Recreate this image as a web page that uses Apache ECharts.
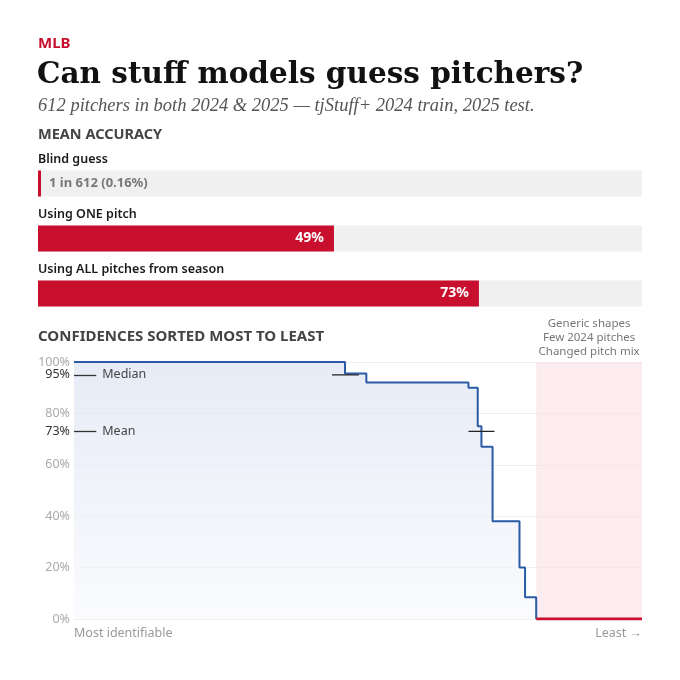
<!DOCTYPE html>
<html>
<head>
<meta charset="utf-8">
<script src="https://cdn.jsdelivr.net/npm/echarts@6/dist/echarts.min.js"></script>
<style>
  html, body { margin: 0; padding: 0; background: #fff; }
  #main { width: 680px; height: 680px; }
</style>
</head>
<body>
<div id="main"></div>
<script>
// mean accuracy bars
const accCategories = ["Blind guess", "Using ONE pitch", "Using ALL pitches from season"];
const accValues = [0.16, 49, 73];
const accLabels = ["1 in 612 (0.16%)", "49%", "73%"];

// sorted confidences (pitcher rank out of 612, confidence %)
const rankX = [0, 292, 315, 425, 435, 439, 451, 480, 486, 498];
const confY = [100, 95.5, 92, 90, 75, 67, 38, 20, 8.5, 0];
const zeroRange = [498, 612];
const totalPitchers = 612;

const medianValue = 95;
const medianRank = 292;
const meanValue = 73;
const meanRank = 439;

const yTicks = [0, 20, 40, 60, 73, 80, 95, 100];
const bandNote = "Generic shapes\nFew 2024 pitches\nChanged pitch mix";

const RED = "#c8102e";
const BLUE = "#2b5aa6";
const SANS = "Noto Sans";

let chart = echarts.init(document.getElementById("main"));

const stepData = rankX.map((x, i) => [x, confY[i]]);

chart.setOption({
  animation: false,
  textStyle: { fontFamily: SANS },
  title: [
    { text: "MLB", left: 38, top: 36, padding: 0,
      textStyle: { fontSize: 15, fontWeight: "bold", color: RED, fontFamily: SANS } },
    { text: "Can stuff models guess pitchers?", left: 37, top: 60, padding: 0,
      textStyle: { fontSize: 29.5, fontWeight: "bold", color: "#111", fontFamily: "DejaVu Serif" } },
    { text: "612 pitchers in both 2024 & 2025 — tjStuff+ 2024 train, 2025 test.", left: 38, top: 97, padding: 0,
      textStyle: { fontSize: 18.5, fontStyle: "italic", fontWeight: "normal", color: "#555", fontFamily: "Liberation Serif" } },
    { text: "MEAN ACCURACY", left: 38, top: 127, padding: 0,
      textStyle: { fontSize: 14.5, fontWeight: "bold", color: "#444", fontFamily: SANS } },
    { text: "CONFIDENCES SORTED MOST TO LEAST", left: 38, top: 329, padding: 0,
      textStyle: { fontSize: 15, fontWeight: "bold", color: "#444", fontFamily: SANS } }
  ],
  grid: [
    { left: 38, right: 38, top: 156, height: 165 },
    { left: 74, right: 38, top: 362, bottom: 61 }
  ],
  xAxis: [
    { gridIndex: 0, type: "value", min: 0, max: 100, show: false },
    {
      gridIndex: 1, type: "value", min: 0, max: totalPitchers,
      axisLine: { show: false }, axisTick: { show: false }, splitLine: { show: false },
      axisLabel: {
        customValues: [0, totalPitchers],
        color: "#999", fontSize: 12.5, margin: 8,
        alignMinLabel: "left", alignMaxLabel: "right",
        formatter: v => (v === 0 ? "Most identifiable" : "Least →")
      }
    }
  ],
  yAxis: [
    { gridIndex: 0, type: "category", data: accCategories, inverse: true, show: false },
    {
      gridIndex: 1, type: "value", min: 0, max: 100, interval: 20,
      axisLine: { show: false }, axisTick: { show: false },
      splitLine: { lineStyle: { color: "#efefef", width: 1 } },
      axisLabel: {
        customValues: yTicks, margin: 4, fontSize: 12.5,
        formatter: v => (v === medianValue || v === meanValue ? "{d|" + v + "%}" : "{g|" + v + "%}"),
        rich: { d: { color: "#333", fontSize: 12.5 }, g: { color: "#aaa", fontSize: 12.5 } }
      }
    }
  ],
  series: [
    {
      // grey tracks + category names above
      type: "bar", xAxisIndex: 0, yAxisIndex: 0,
      data: accCategories.map(() => 100),
      barWidth: 26, barGap: "-100%", silent: true,
      itemStyle: { color: "#f0f0f0" },
      label: {
        show: true, position: [0, -11], verticalAlign: "middle", align: "left",
        color: "#1a1a1a", fontSize: 12.5, fontWeight: 600,
        formatter: p => accCategories[p.dataIndex]
      }
    },
    {
      type: "bar", xAxisIndex: 0, yAxisIndex: 0,
      data: accValues.map((v, i) => i === 0
        ? { value: v, label: { position: "right", color: "#777", fontSize: 13, distance: 8 } }
        : v),
      barWidth: 26, barMinHeight: 3,
      itemStyle: { color: RED },
      label: {
        show: true, fontWeight: "bold",
        formatter: p => accLabels[p.dataIndex],
        position: "insideRight", color: "#fff", fontSize: 14, distance: 10
      }
    },
    {
      type: "line", xAxisIndex: 1, yAxisIndex: 1,
      data: stepData, step: "end", symbol: "none",
      lineStyle: { color: BLUE, width: 2 },
      areaStyle: {
        color: new echarts.graphic.LinearGradient(0, 0, 0, 1, [
          { offset: 0, color: "#dbe2f1" },
          { offset: 1, color: "#f8f9fd" }
        ])
      },
      markArea: {
        silent: true,
        itemStyle: { color: "rgba(250,220,228,0.55)" },
        label: { show: true, position: "top", color: "#777", fontSize: 11.5, lineHeight: 14, distance: 3 },
        data: [[{ xAxis: zeroRange[0], yAxis: 100, name: bandNote }, { xAxis: zeroRange[1], yAxis: 0 }]]
      },
      markLine: {
        silent: true, symbol: "none",
        lineStyle: { color: "#333", width: 1.3, type: "solid" },
        label: { show: true, position: "end", color: "#444", fontSize: 12.5, distance: 6 },
        data: [
          [{ coord: [0, medianValue], name: "Median" }, { coord: [24, medianValue] }],
          [{ coord: [0, meanValue], name: "Mean" }, { coord: [24, meanValue] }]
        ]
      },
      z: 3
    },
    {
      type: "line", xAxisIndex: 1, yAxisIndex: 1,
      data: [[zeroRange[0], 0], [zeroRange[1], 0]], symbol: "none",
      lineStyle: { color: RED, width: 3 }, z: 4
    },
    {
      type: "line", xAxisIndex: 1, yAxisIndex: 1,
      data: [[medianRank - 14, medianValue], [medianRank + 15, medianValue]], symbol: "none",
      lineStyle: { color: "#222", width: 1.2 }, z: 5
    },
    {
      type: "line", xAxisIndex: 1, yAxisIndex: 1,
      data: [[meanRank - 14, meanValue], [meanRank + 14, meanValue]], symbol: "none",
      lineStyle: { color: "#222", width: 1.2 }, z: 5
    }
  ]
});
</script>
</body>
</html>
